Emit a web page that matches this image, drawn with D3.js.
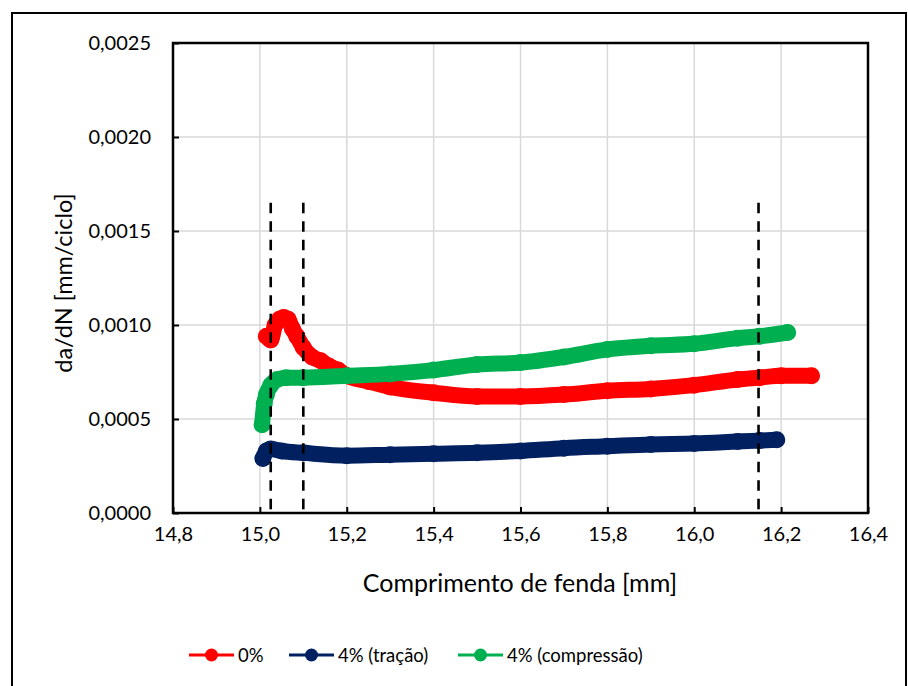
<!DOCTYPE html>
<html>
<head>
<meta charset="utf-8">
<script src="https://cdn.jsdelivr.net/npm/d3@7"></script>
<style>
  body { margin: 0; background: #fff; }
  svg { font-family: Lato, "Open Sans", sans-serif; }
</style>
</head>
<body>
<svg id="chart" width="908" height="686"></svg>
<script>
// series
const redX = [15.015, 15.025, 15.035, 15.045, 15.055, 15.065, 15.075, 15.085, 15.10, 15.12, 15.14, 15.16, 15.18, 15.20, 15.25, 15.30, 15.40, 15.50, 15.60, 15.70, 15.80, 15.90, 16.00, 16.10, 16.15, 16.20, 16.27];
const redY = [0.00094, 0.00092, 0.00100, 0.00103, 0.00104, 0.00103, 0.00098, 0.00094, 0.00088, 0.00083, 0.00081, 0.00078, 0.00076, 0.00073, 0.00070, 0.00067, 0.00064, 0.00062, 0.00062, 0.00063, 0.00065, 0.00066, 0.00068, 0.00071, 0.00072, 0.00073, 0.00073];

const blueX = [15.007, 15.015, 15.025, 15.05, 15.10, 15.20, 15.30, 15.40, 15.50, 15.60, 15.70, 15.80, 15.90, 16.00, 16.10, 16.15, 16.19];
const blueY = [0.00029, 0.00033, 0.00034, 0.00033, 0.00032, 0.000305, 0.00031, 0.000315, 0.00032, 0.00033, 0.000345, 0.000355, 0.000365, 0.00037, 0.00038, 0.000385, 0.00039];

const greenX = [15.005, 15.01, 15.015, 15.025, 15.04, 15.06, 15.10, 15.20, 15.30, 15.40, 15.50, 15.60, 15.70, 15.80, 15.90, 16.00, 16.10, 16.15, 16.215];
const greenY = [0.00047, 0.00058, 0.00063, 0.00068, 0.00071, 0.00072, 0.00072, 0.00073, 0.00074, 0.00076, 0.00079, 0.00080, 0.00083, 0.00087, 0.00089, 0.00090, 0.00093, 0.00094, 0.00096];

const seriesNames = ["0%", "4% (tração)", "4% (compressão)"];
const seriesColors = ["#ff0000", "#002060", "#00b050"];

const dashX = [15.025, 15.1, 16.148];
const dashTop = 0.00165;

const xTicks = [14.8, 15.0, 15.2, 15.4, 15.6, 15.8, 16.0, 16.2, 16.4];
const yTicks = [0, 0.0005, 0.0010, 0.0015, 0.0020, 0.0025];

const svg = d3.select("#chart");
const margin = {left: 173, top: 43, right: 868, bottom: 513};

// outer chart border
svg.append("rect")
  .attr("x", 12).attr("y", 13)
  .attr("width", 894).attr("height", 690)
  .attr("fill", "none").attr("stroke", "#000").attr("stroke-width", 2);

const x = d3.scaleLinear().domain([14.8, 16.4]).range([margin.left, margin.right]);
const y = d3.scaleLinear().domain([0, 0.0025]).range([margin.bottom, margin.top]);

// gridlines
svg.append("g")
  .selectAll("line").data(xTicks).enter().append("line")
  .attr("x1", d => x(d)).attr("x2", d => x(d))
  .attr("y1", margin.top).attr("y2", margin.bottom)
  .attr("stroke", "#d9d9d9").attr("stroke-width", 1.5);
svg.append("g")
  .selectAll("line").data(yTicks).enter().append("line")
  .attr("x1", margin.left).attr("x2", margin.right)
  .attr("y1", d => y(d)).attr("y2", d => y(d))
  .attr("stroke", "#d9d9d9").attr("stroke-width", 1.5);

// axes (ticks pointing inward)
const xAxis = d3.axisBottom(x).tickValues(xTicks).tickSizeInner(-6).tickSizeOuter(0)
  .tickPadding(14).tickFormat(d => d3.format(".1f")(d).replace(".", ","));
const yAxis = d3.axisLeft(y).tickValues(yTicks).tickSizeInner(-6).tickSizeOuter(0)
  .tickPadding(22).tickFormat(d => d3.format(".4f")(d).replace(".", ","));

const gx = svg.append("g").attr("transform", `translate(0,${margin.bottom})`).call(xAxis);
const gy = svg.append("g").attr("transform", `translate(${margin.left},0)`).call(yAxis);
[gx, gy].forEach(g => {
  g.select(".domain").remove();
  g.selectAll(".tick line").attr("stroke", "#000").attr("stroke-width", 2);
  g.selectAll(".tick text").attr("fill", "#000").style("font-size", "20px").style("font-family", "Lato");
});

// plot frame
svg.append("rect")
  .attr("x", margin.left).attr("y", margin.top)
  .attr("width", margin.right - margin.left).attr("height", margin.bottom - margin.top)
  .attr("fill", "none").attr("stroke", "#000").attr("stroke-width", 2.5);

// series
const allSeries = [
  {x: redX, y: redY},
  {x: blueX, y: blueY},
  {x: greenX, y: greenY}
];
const line = d3.line().x(d => x(d[0])).y(d => y(d[1])).curve(d3.curveMonotoneX);

allSeries.forEach((s, i) => {
  const pts = s.x.map((v, k) => [v, s.y[k]]);
  const g = svg.append("g");
  g.append("path").datum(pts)
    .attr("d", line)
    .attr("fill", "none")
    .attr("stroke", seriesColors[i])
    .attr("stroke-width", 16)
    .attr("stroke-linecap", "round")
    .attr("stroke-linejoin", "round");
  g.selectAll("circle").data(pts).enter().append("circle")
    .attr("cx", d => x(d[0])).attr("cy", d => y(d[1]))
    .attr("r", 8.5)
    .attr("fill", seriesColors[i]);
});

// dashed vertical markers
svg.append("g").selectAll("line").data(dashX).enter().append("line")
  .attr("x1", d => x(d)).attr("x2", d => x(d))
  .attr("y1", y(dashTop)).attr("y2", margin.bottom)
  .attr("stroke", "#000").attr("stroke-width", 2.6)
  .attr("stroke-dasharray", "10.5,8");

// axis titles
svg.append("text")
  .attr("x", (margin.left + margin.right) / 2 - 0.5).attr("y", 592)
  .attr("text-anchor", "middle")
  .style("font-size", "25px")
  .text("Comprimento de fenda [mm]");

svg.append("text")
  .attr("transform", `translate(72,283) rotate(-90)`)
  .attr("text-anchor", "middle")
  .style("font-size", "23.5px")
  .text("da/dN [mm/ciclo]");

// legend
const legendX = [189, 289, 458];
const legend = svg.append("g");
seriesNames.forEach((name, i) => {
  const lx = legendX[i];
  legend.append("line")
    .attr("x1", lx).attr("x2", lx + 45)
    .attr("y1", 655).attr("y2", 655)
    .attr("stroke", seriesColors[i]).attr("stroke-width", 3);
  legend.append("circle")
    .attr("cx", lx + 22.5).attr("cy", 655).attr("r", 6.5)
    .attr("fill", seriesColors[i]);
  legend.append("text")
    .attr("x", lx + 49).attr("y", 662)
    .style("font-size", "18.5px")
    .text(name);
});
</script>
</body>
</html>
